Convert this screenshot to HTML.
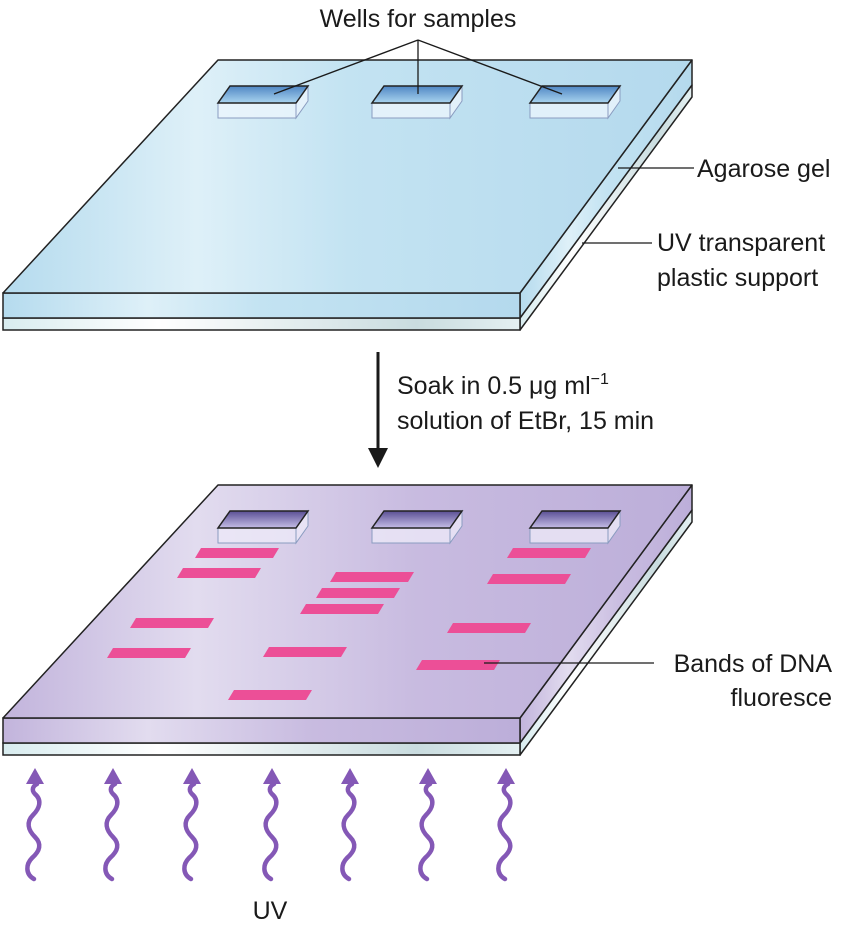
<!DOCTYPE html>
<html><head><meta charset="utf-8"><style>
html,body{margin:0;padding:0;background:#fff;width:852px;height:926px;overflow:hidden}
svg{display:block}
text{font-family:"Liberation Sans",Arial,sans-serif;fill:#1a1a1a}
</style></head><body>
<svg id="s" width="852" height="926" viewBox="0 0 852 926">
<defs>
<linearGradient id="gb" x1="0" x2="1" y1="0" y2="0">
<stop offset="0" stop-color="#b5dbee"/><stop offset="0.28" stop-color="#def0f8"/><stop offset="0.5" stop-color="#c3e3f2"/><stop offset="1" stop-color="#b4d9ed"/></linearGradient>
<linearGradient id="gp" x1="0" x2="1" y1="0" y2="0">
<stop offset="0" stop-color="#c2b4dc"/><stop offset="0.28" stop-color="#e2dcef"/><stop offset="0.6" stop-color="#c8bbe0"/><stop offset="1" stop-color="#bcaed9"/></linearGradient>
<linearGradient id="sp" x1="0" x2="1" y1="0" y2="0">
<stop offset="0" stop-color="#d8ecef"/><stop offset="0.3" stop-color="#ffffff"/><stop offset="0.8" stop-color="#c9dcdf"/><stop offset="1" stop-color="#e4f0f2"/></linearGradient>
<linearGradient id="wb" x1="0" x2="0" y1="0" y2="1"><stop offset="0" stop-color="#4f86c4"/><stop offset="1" stop-color="#a9d4ef"/></linearGradient>
<linearGradient id="wp" x1="0" x2="0" y1="0" y2="1"><stop offset="0" stop-color="#5a4f94"/><stop offset="1" stop-color="#c5bde6"/></linearGradient>
</defs>
<g id="top"></g>
<g id="bot"></g>

<text x="418" y="27" font-size="25" text-anchor="middle">Wells for samples</text>
<g stroke="#1a1a1a" stroke-width="1.3" fill="none">
<line x1="418" y1="40" x2="274" y2="94"/><line x1="418" y1="40" x2="418" y2="94"/><line x1="418" y1="40" x2="562" y2="94"/>
<line x1="618" y1="168" x2="694" y2="168"/>
<line x1="582" y1="243" x2="652" y2="243"/>
<line x1="484" y1="663" x2="654" y2="663"/>
</g>
<text x="697" y="177" font-size="25">Agarose gel</text>
<text x="657" y="251" font-size="25">UV transparent</text>
<text x="657" y="286" font-size="25">plastic support</text>
<g>
<line x1="378" y1="352" x2="378" y2="452" stroke="#1a1a1a" stroke-width="3"/>
<polygon points="368,448 388,448 378,468" fill="#1a1a1a"/></g>
<text x="397" y="394" font-size="25">Soak in 0.5 μg ml<tspan dy="-10" font-size="16">−1</tspan></text>
<text x="397" y="429" font-size="25">solution of EtBr, 15 min</text>
<text x="832" y="672" font-size="25" text-anchor="end">Bands of DNA</text>
<text x="832" y="706" font-size="25" text-anchor="end">fluoresce</text>
<g id="uv"></g>
<text x="270" y="919" font-size="25" text-anchor="middle">UV</text>
</svg>
<script>
const NS="http://www.w3.org/2000/svg";
const laneNames=["lane-1","lane-2","lane-3"];
const bandX=[[195,177,130,107],[330,316,300,263,228],[507,487,447,416]];
const bandY=[[548,568,618,648],[572,588,604,647,690],[548,574,623,660]];
const wellX=[218,372,530];
const rayX=[35,113,192,272,350,428,506];
function mk(p,t,a){const e=document.createElementNS(NS,t);for(const k in a)e.setAttribute(k,a[k]);p.appendChild(e);return e;}
function gel(g,y0,fill,wfill,boxFill){
  mk(g,'polygon',{points:`520,${y0+258} 692,${y0+25} 692,${y0+37} 520,${y0+270}`,fill:'url(#sp)',stroke:'#222','stroke-width':1.5,'stroke-linejoin':'round'});
  mk(g,'rect',{x:3,y:y0+258,width:517,height:12,fill:'url(#sp)',stroke:'#222','stroke-width':1.5});
  mk(g,'polygon',{points:`520,${y0+233} 692,${y0} 692,${y0+25} 520,${y0+258}`,fill:fill,stroke:'#222','stroke-width':1.5,'stroke-linejoin':'round'});
  mk(g,'rect',{x:3,y:y0+233,width:517,height:25,fill:fill,stroke:'#222','stroke-width':1.5});
  mk(g,'polygon',{points:`218,${y0} 692,${y0} 520,${y0+233} 3,${y0+233}`,fill:fill,stroke:'#222','stroke-width':1.5,'stroke-linejoin':'round'});
  wellX.forEach((x,i)=>{
    const w=mk(g,'g',{});
    
    
    mk(w,'polygon',{points:`${x},${y0+43} ${x+78},${y0+43} ${x+78},${y0+58} ${x},${y0+58}`,fill:boxFill,stroke:'#8a9cc0','stroke-width':1});
    mk(w,'polygon',{points:`${x+78},${y0+43} ${x+90},${y0+26} ${x+90},${y0+41} ${x+78},${y0+58}`,fill:boxFill,stroke:'#8a9cc0','stroke-width':1});
    mk(w,'polygon',{points:`${x+12},${y0+26} ${x+90},${y0+26} ${x+78},${y0+43} ${x},${y0+43}`,fill:wfill,stroke:'#222','stroke-width':1.5});
  });
}
gel(document.getElementById('top'),60,'url(#gb)','url(#wb)','rgba(235,245,252,0.8)');
gel(document.getElementById('bot'),485,'url(#gp)','url(#wp)','rgba(236,232,248,0.8)');
const bot=document.getElementById('bot');
bandX.forEach((xs,l)=>xs.forEach((x,i)=>{
  const y=bandY[l][i];
  const b=mk(bot,'polygon',{points:`${x+6},${y} ${x+84},${y} ${x+78},${y+10} ${x},${y+10}`,fill:'#ec4f97'});
  
  
}));
const uv=document.getElementById('uv');
rayX.forEach((x,i)=>{
  const g=mk(uv,'g',{});
  
  
  const d=`M${x-1},879 C${x-10},874 ${x-9},864 ${x-3},858 C${x+5},851 ${x+7},844 ${x},837 C${x-7},830 ${x-9},822 ${x-2},815 C${x+5},808 ${x+7},800 ${x},794 C${x-4},790 ${x-2},786 ${x+2},784`;
  mk(g,'path',{d:d,fill:'none',stroke:'#8458b6','stroke-width':4.5,'stroke-linecap':'round'});
  mk(g,'polygon',{points:`${x},768 ${x+9},784 ${x-9},784`,fill:'#8458b6'});
});
</script>
</body></html>
